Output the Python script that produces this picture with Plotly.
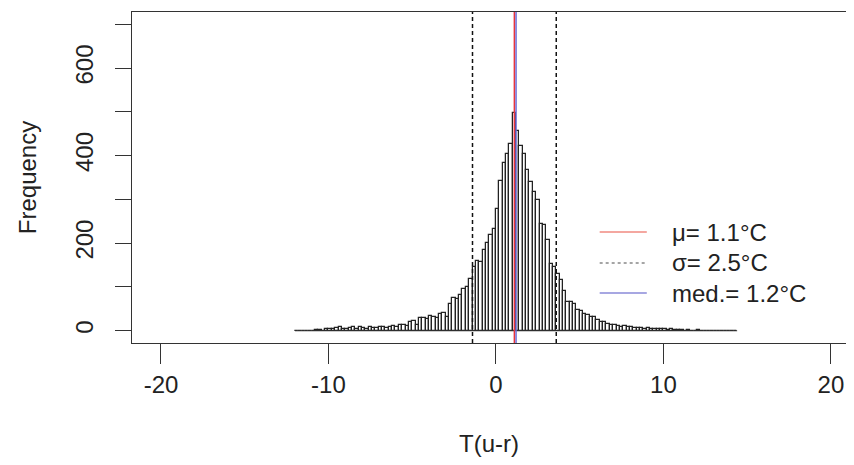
import numpy as np
import plotly.graph_objects as go

# ---- data ----
bin_start = -12.0
bin_width = 0.2
counts = [
    0, 0, 0, 0, 0, 0, 1, 2, 0, 3, 4, 3, 6, 8, 4, 3, 7, 8, 4, 8,
    6, 5, 8, 7, 6, 9, 8, 7, 9, 10, 9, 12, 14, 11, 20, 22, 14, 30, 28, 27,
    33,
    32, 28, 38, 40, 32, 62, 75, 73, 82, 95, 100, 119, 145, 159, 157, 184, 200, 219, 232, 278,
    343, 384, 403, 427, 498,
    456, 422, 403, 368, 339, 316, 298, 244, 241, 207, 152, 145, 130, 116, 91,
    66, 65, 60, 47, 46, 38, 36, 32, 32, 24, 19, 21, 16, 13, 12, 10, 9, 10, 8, 9,
    7, 6, 7, 5, 6, 4, 5, 3, 4, 3, 2, 3, 1, 2, 1,
    0, 1, 0, 0, 1, 0, 0, 0, 0, 0, 0, 0, 0, 0, 0, 0,
]
mu = 1.1
sigma = 2.5
med = 1.2
x_ticks = [-20, -10, 0, 10, 20]
y_ticks = [0, 100, 200, 300, 400, 500, 600, 700]
y_ticklabels = ["0", "", "200", "", "400", "", "600", ""]
legend_labels = ["\u03bc= 1.1\u00b0C", "\u03c3= 2.5\u00b0C", "med.= 1.2\u00b0C"]

edges = bin_start + bin_width * np.arange(len(counts) + 1)
centers = (edges[:-1] + edges[1:]) / 2

FONT = "Liberation Sans, Arial, Helvetica, sans-serif"
RED = "#e8343c"
BLUE = "#6b6bd6"

fig = go.Figure()
# baseline of histogram (zero-count bins)
fig.add_trace(go.Scatter(x=[edges[0], edges[-1]], y=[0, 0], mode="lines",
                         line=dict(color="#333333", width=1.2), showlegend=False,
                         hoverinfo="skip"))
fig.add_trace(go.Bar(x=centers, y=counts, width=bin_width,
                     marker=dict(color="white", line=dict(color="#222222", width=1.25)),
                     showlegend=False))

# vertical reference lines
for xv, col, dash in [(mu - sigma, "#111111", "4px,3px"), (mu + sigma, "#111111", "4px,3px"),
                      (mu, RED, "solid"), (med, BLUE, "solid")]:
    fig.add_shape(type="line", xref="x", yref="paper", x0=xv, x1=xv, y0=0, y1=1,
                  line=dict(color=col, width=1.5, dash=dash))

# manual legend (lines + text), positioned in paper coordinates
leg_cols = ["#f08a80", "#888888", "#8a8ad8"]
leg_dash = ["solid", "dot", "solid"]
leg_x0, leg_x1, leg_tx = 0.655, 0.721, 0.753
leg_y = [0.335, 0.242, 0.151]
for lab, col, dash, yy in zip(legend_labels, leg_cols, leg_dash, leg_y):
    fig.add_shape(type="line", xref="paper", yref="paper", x0=leg_x0, x1=leg_x1,
                  y0=yy, y1=yy, line=dict(color=col, width=1.5, dash=dash))
    fig.add_annotation(xref="paper", yref="paper", x=leg_tx, y=yy, text=lab,
                       showarrow=False, xanchor="left", yanchor="middle",
                       font=dict(size=24, family=FONT, color="#222222"))

# the page body has an 8px margin: size the figure so no scrollbars appear
fig.update_layout(
    width=838, height=449,
    margin=dict(l=124, r=0, t=4, b=114),
    plot_bgcolor="white", paper_bgcolor="white",
    font=dict(family=FONT, size=24, color="#222222"),
    bargap=0,
    showlegend=False,
)
fig.update_xaxes(range=[-21.73, 20.9], tickvals=x_ticks, ticktext=[str(v) for v in x_ticks],
                 ticks="outside", ticklen=20, tickwidth=1.2, tickcolor="#333333",
                 showline=True, linecolor="#333333", linewidth=1.2, mirror=True,
                 showgrid=False, zeroline=False, automargin=False,
                 title=dict(text="T(u-r)", font=dict(size=24), standoff=45))
fig.update_yaxes(range=[-28, 728], tickvals=y_ticks, ticktext=y_ticklabels,
                 ticks="outside", ticklen=16, tickwidth=1.2, tickcolor="#333333",
                 tickangle=-90, ticklabelstandoff=12,
                 showline=True, linecolor="#333333", linewidth=1.2, mirror=False,
                 showgrid=False, zeroline=False, automargin=False,
                 title=dict(text="Frequency", font=dict(size=24), standoff=27))

fig.write_html("out.html")
